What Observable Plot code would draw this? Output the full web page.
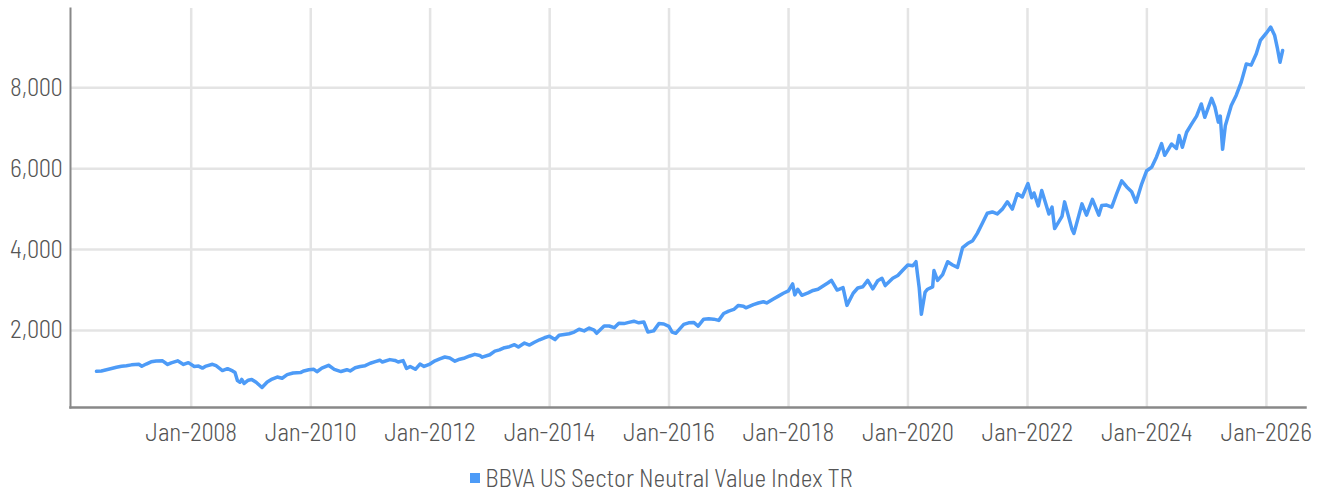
<!DOCTYPE html>
<html><head><meta charset="utf-8">
<script src="https://cdn.jsdelivr.net/npm/d3@7"></script>
<script src="https://cdn.jsdelivr.net/npm/@observablehq/plot@0.6"></script>
<style>
html,body{margin:0;padding:0;background:#fff;overflow:hidden;}
body{font-family:"Barlow Semi Condensed","Roboto Condensed","Liberation Sans Narrow","DejaVu Sans Condensed",Roboto,sans-serif;}
#chart svg{display:block;}
#legend{display:flex;justify-content:center;align-items:center;height:25px;margin-top:15px;color:#555;font-size:25px;line-height:1;font-weight:300;}
#legend .sw{width:10px;height:10px;margin-right:5px;}
</style></head><body>
<div id="chart"></div>
<div id="legend"></div>
<script>
const seriesName = "BBVA US Sector Neutral Value Index TR";
const seriesColor = "#4d9bf7";
const dates = [
"2006-06-01","2006-07-01","2006-08-01","2006-09-01","2006-10-01","2006-11-01","2006-12-01",
"2007-01-01","2007-02-15","2007-03-05","2007-04-01","2007-05-01","2007-06-01","2007-07-10","2007-08-10","2007-09-01","2007-10-10","2007-11-15","2007-12-15",
"2008-01-20","2008-02-15","2008-03-10","2008-04-01","2008-05-10","2008-06-01","2008-07-10","2008-08-10","2008-09-10","2008-09-25","2008-10-10","2008-10-25","2008-11-05","2008-11-20","2008-12-15",
"2009-01-05","2009-02-01","2009-03-09","2009-04-10","2009-05-10","2009-06-10","2009-07-10","2009-08-10","2009-09-15","2009-10-30","2009-11-20","2009-12-20",
"2010-01-20","2010-02-08","2010-03-10","2010-04-20","2010-05-25","2010-07-05","2010-08-10","2010-08-30","2010-09-30","2010-10-31","2010-11-30","2010-12-31",
"2011-01-31","2011-02-28","2011-03-15","2011-04-30","2011-05-31","2011-06-20","2011-07-20","2011-08-10","2011-09-01","2011-10-03","2011-10-31","2011-11-25","2011-12-31",
"2012-01-31","2012-02-29","2012-03-31","2012-04-30","2012-06-01","2012-06-30","2012-07-31","2012-08-31","2012-09-30","2012-10-31","2012-11-15","2012-12-31",
"2013-01-31","2013-02-28","2013-03-31","2013-04-30","2013-05-31","2013-06-24","2013-07-31","2013-08-31","2013-09-30","2013-10-31","2013-11-30","2013-12-31",
"2014-02-03","2014-02-28","2014-03-31","2014-04-30","2014-05-31","2014-06-30","2014-07-31","2014-08-31","2014-09-30","2014-10-15","2014-11-30","2014-12-31",
"2015-01-31","2015-02-28","2015-03-31","2015-04-30","2015-05-31","2015-06-30","2015-07-31","2015-08-25","2015-09-29","2015-10-31","2015-11-30","2015-12-31",
"2016-01-20","2016-02-11","2016-03-31","2016-04-30","2016-05-31","2016-06-27","2016-07-31","2016-08-31","2016-09-30","2016-10-31","2016-11-30","2016-12-31",
"2017-01-31","2017-02-28","2017-03-31","2017-04-15","2017-05-31","2017-06-30","2017-07-31","2017-08-20","2017-09-30","2017-10-31","2017-11-30","2017-12-31",
"2018-01-26","2018-02-08","2018-02-26","2018-03-23","2018-04-30","2018-05-31","2018-06-30","2018-07-31","2018-08-31","2018-09-20","2018-10-25","2018-11-30","2018-12-24",
"2019-01-31","2019-02-28","2019-03-31","2019-04-30","2019-05-31","2019-06-30","2019-07-26","2019-08-15","2019-09-30","2019-10-31","2019-11-30","2019-12-31",
"2020-01-31","2020-02-19","2020-02-28","2020-03-10","2020-03-23","2020-04-15","2020-04-30","2020-05-31","2020-06-08","2020-06-30","2020-07-31","2020-08-31","2020-09-30","2020-10-30","2020-11-30","2020-12-31",
"2021-01-31","2021-02-28","2021-03-31","2021-04-30","2021-05-31","2021-06-30","2021-07-31","2021-08-31","2021-09-30","2021-10-31","2021-11-30","2021-12-31",
"2022-01-04","2022-01-27","2022-02-10","2022-03-08","2022-03-29","2022-05-12","2022-05-31","2022-06-16","2022-07-31","2022-08-16","2022-09-30","2022-10-12","2022-11-30","2022-12-28",
"2023-02-02","2023-03-13","2023-03-31","2023-04-30","2023-05-31","2023-06-30","2023-07-31","2023-08-31","2023-09-30","2023-10-27","2023-11-30","2023-12-31",
"2024-01-31","2024-02-29","2024-03-31","2024-04-19","2024-05-31","2024-06-30","2024-07-16","2024-08-05","2024-08-31","2024-09-30","2024-10-31","2024-11-29","2024-12-20",
"2025-01-31","2025-02-20","2025-03-13","2025-03-25","2025-04-08","2025-04-25","2025-05-31","2025-06-30","2025-07-31","2025-08-31","2025-09-30","2025-10-31","2025-11-25","2025-12-31",
"2026-01-27","2026-02-20","2026-03-10","2026-03-25","2026-04-10"
];
const values = [
990,1000,1030,1060,1090,1115,1130,
1150,1165,1115,1170,1225,1245,1250,1160,1200,1250,1160,1205,
1110,1120,1070,1120,1165,1130,1010,1055,1000,960,760,720,790,690,770,
790,720,590,725,800,850,820,910,950,960,1000,1030,
1040,980,1070,1140,1040,985,1030,1000,1080,1110,1130,1190,
1230,1265,1220,1280,1260,1220,1255,1060,1110,1040,1170,1110,1170,
1250,1300,1345,1320,1240,1290,1320,1370,1410,1380,1340,1400,
1490,1520,1575,1600,1650,1590,1690,1640,1710,1770,1820,1860,
1775,1880,1900,1920,1960,2030,1990,2060,2010,1930,2110,2110,
2070,2180,2170,2200,2230,2190,2210,1960,1990,2170,2160,2100,
1960,1930,2150,2190,2200,2110,2280,2290,2280,2250,2420,2480,
2520,2620,2600,2560,2640,2680,2710,2680,2780,2850,2920,2980,
3150,2880,3020,2870,2930,2990,3020,3100,3180,3240,3000,3060,2620,
2920,3050,3080,3240,3030,3230,3290,3110,3290,3360,3490,3620,
3600,3700,3400,3050,2400,2950,3020,3080,3480,3240,3380,3700,3620,3560,4050,4150,
4220,4400,4650,4900,4930,4880,5000,5180,5000,5380,5300,5600,
5630,5280,5400,5080,5460,4880,5050,4520,4820,5180,4500,4400,5130,4850,
5240,4850,5090,5100,5050,5380,5700,5550,5430,5170,5620,5950,
6040,6290,6620,6330,6610,6500,6820,6530,6900,7100,7300,7600,7270,
7740,7530,7150,7300,6480,7070,7560,7810,8140,8590,8560,8840,9170,9350,
9500,9300,8960,8630,8920
];
const xTickDates = ["2008-01-01","2010-01-01","2012-01-01","2014-01-01","2016-01-01","2018-01-01","2020-01-01","2022-01-01","2024-01-01","2026-01-01"].map(d => new Date(d));
const yTicks = [2000, 4000, 6000, 8000];
const xDomain = [new Date("2005-12-24"), new Date("2026-08-28")];
const yDomain = [96, 9960];

const data = dates.map((d, i) => ({date: new Date(d), value: values[i]}));
const fmtX = d3.utcFormat("%b-%Y");
const fmtY = d3.format(",");

const chart = Plot.plot({
  width: 1323, height: 450,
  marginTop: 8, marginBottom: 43, marginLeft: 70, marginRight: 18,
  style: {fontFamily: "inherit", background: "#fff"},
  x: {type: "utc", domain: xDomain},
  y: {domain: yDomain},
  marks: [
    Plot.gridX(xTickDates, {stroke: "#e4e4e4", strokeWidth: 2.5, strokeOpacity: 1}),
    Plot.gridY(yTicks, {stroke: "#e4e4e4", strokeWidth: 2.5, strokeOpacity: 1}),
    Plot.axisX(xTickDates, {tickSize: 0, tickPadding: 16, tickFormat: fmtX, fontSize: 25, fill: "#555", fontWeight: 300, label: null}),
    Plot.axisY(yTicks, {tickSize: 0, tickPadding: 8, tickFormat: fmtY, fontSize: 25, fill: "#555", fontWeight: 300, label: null}),
    Plot.frame({anchor: "left", stroke: "#888", strokeWidth: 2}),
    Plot.frame({anchor: "bottom", stroke: "#888", strokeWidth: 2.5}),
    Plot.lineY(data, {x: "date", y: "value", stroke: seriesColor, strokeWidth: 3.5, strokeLinejoin: "round"})
  ]
});
document.getElementById("chart").appendChild(chart);

const lg = document.getElementById("legend");
lg.innerHTML = `<span class="sw" style="background:${seriesColor}"></span><span>${seriesName}</span>`;
</script>
</body></html>
